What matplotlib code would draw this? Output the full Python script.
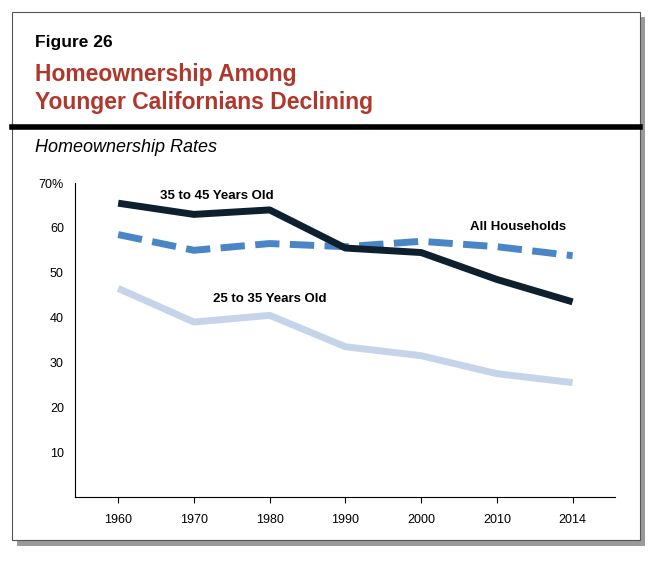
import matplotlib.pyplot as plt
from matplotlib.patches import Rectangle

years = ['1960', '1970', '1980', '1990', '2000', '2010', '2014']
age_35_45 = [65.5, 63.0, 64.0, 55.5, 54.5, 48.5, 43.5]
all_households = [58.5, 55.0, 56.5, 55.8, 57.0, 55.8, 53.8]
age_25_35 = [46.5, 39.0, 40.5, 33.5, 31.5, 27.5, 25.5]
y_ticks = [10, 20, 30, 40, 50, 60, 70]
y_labels = ['10', '20', '30', '40', '50', '60', '70%']

W, H = 655, 562
fig = plt.figure(figsize=(W / 100, H / 100), dpi=100)
fig.patch.set_facecolor('white')

# frame with shadow (kept behind the axes)
fig.add_artist(Rectangle((17 / W, 1 - 546 / H), 628 / W, 529 / H, zorder=-3,
                         transform=fig.transFigure, facecolor='#9a9a9a', edgecolor='none'))
fig.add_artist(Rectangle((12 / W, 1 - 540 / H), 628 / W, 528 / H, zorder=-2,
                         transform=fig.transFigure, facecolor='white', edgecolor='#555555', lw=0.8))
fig.add_artist(plt.Line2D([12 / W, 640 / W], [1 - 127 / H, 1 - 127 / H], zorder=-1,
                          transform=fig.transFigure, color='black', lw=4))

fig.text(35 / W, 1 - 42 / H, 'Figure 26', fontsize=12.5, fontweight='bold',
         family='Liberation Sans', va='center')
fig.text(35 / W, 1 - 75 / H, 'Homeownership Among', fontsize=16.5, fontweight='bold',
         family='Liberation Sans', color='#b0372b', va='center')
fig.text(35 / W, 1 - 103 / H, 'Younger Californians Declining', fontsize=16.5,
         fontweight='bold', family='Liberation Sans', color='#b0372b', va='center')
fig.text(35 / W, 1 - 148 / H, 'Homeownership Rates', fontsize=13, style='italic',
         family='Liberation Sans', va='center')

ax = fig.add_axes([75 / W, 1 - 497 / H, 540 / W, 314 / H])
ax.set_zorder(1)
ax.patch.set_alpha(0)
x = list(range(len(years)))
ax.plot(x, age_25_35, color='#c6d4ea', lw=5, solid_capstyle='butt')
ax.plot(x, all_households, color='#4a86c6', lw=5, dashes=(3.5, 1.5))
ax.plot(x, age_35_45, color='#0e1f2e', lw=5, solid_capstyle='butt')

ax.set_xlim(-0.57, 6.56)
ax.set_ylim(0, 70)
ax.set_xticks(x)
ax.set_xticklabels(years)
ax.set_yticks(y_ticks)
ax.set_yticklabels(y_labels)
for s in ['top', 'right']:
    ax.spines[s].set_visible(False)
ax.tick_params(labelsize=9, length=0, pad=8)
ax.tick_params(axis='x', length=4, direction='out')
for lab in ax.get_xticklabels() + ax.get_yticklabels():
    lab.set_family('Liberation Sans')

ax.text(0.55, 66.5, '35 to 45 Years Old', fontsize=9.5, fontweight='bold', family='Liberation Sans')
ax.text(4.65, 59.5, 'All Households', fontsize=9.5, fontweight='bold', family='Liberation Sans')
ax.text(1.25, 43.5, '25 to 35 Years Old', fontsize=9.5, fontweight='bold', family='Liberation Sans')

fig.savefig('out.png', dpi=100)
